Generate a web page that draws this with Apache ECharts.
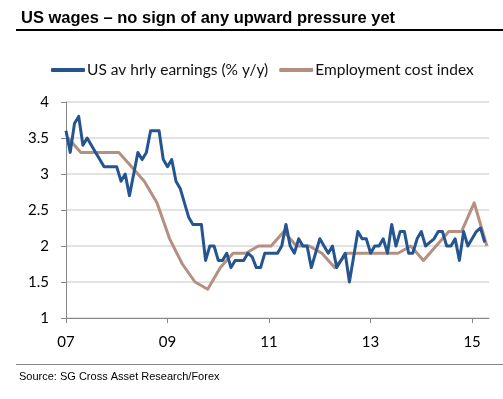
<!DOCTYPE html>
<html>
<head>
<meta charset="utf-8">
<script src="https://cdn.jsdelivr.net/npm/echarts@6/dist/echarts.min.js"></script>
<style>
  html, body { margin: 0; padding: 0; background: #fff; }
  #chart { width: 503px; height: 399px; }
</style>
</head>
<body>
<div id="chart"></div>
<script>
// months counted from Jan 2007 (0) ; monthly AHE series
const earnings = [
  3.6, 3.3, 3.7, 3.8, 3.4, 3.5, 3.4, 3.3, 3.2, 3.1, 3.1, 3.1,
  3.1, 2.9, 3.0, 2.7, 3.0, 3.3, 3.2, 3.3, 3.6, 3.6, 3.6, 3.2,
  3.1, 3.2, 2.9, 2.8, 2.6, 2.4, 2.3, 2.3, 2.3, 1.8, 2.0, 2.0,
  1.8, 1.8, 1.9, 1.7, 1.8, 1.8, 1.8, 1.9, 1.85, 1.7, 1.7, 1.9,
  1.9, 1.9, 1.9, 2.0, 2.3, 2.0, 1.9, 2.1, 2.0, 2.0, 1.7, 1.9,
  2.1, 2.0, 1.9, 2.0, 1.7, 1.8, 1.9, 1.5, 1.85, 2.2, 2.1, 2.1,
  1.9, 2.0, 2.0, 2.1, 1.9, 2.3, 2.0, 2.2, 2.2, 1.9, 1.9, 2.1,
  2.2, 2.0, 2.05, 2.1, 2.2, 2.2, 2.0, 2.0, 2.1, 1.8, 2.2, 2.0,
  2.1, 2.2, 2.25, 2.05
];
// quarterly ECI
const eci = [
  3.5, 3.3, 3.3, 3.3, 3.3, 3.1, 2.9, 2.6, 2.1, 1.75, 1.5, 1.4,
  1.7, 1.9, 1.9, 2.0, 2.0, 2.2, 2.0, 2.0, 1.9, 1.7, 1.9, 1.9,
  1.9, 1.9, 1.9, 2.0, 1.8, 2.0, 2.2, 2.2, 2.6, 2.0
];
const yearLabels = ['07', '09', '11', '13', '15'];
const seriesNames = ['US av hrly earnings (% y/y)', 'Employment cost index'];

const blue = '#245590';
const brown = '#b59080';

const chart = echarts.init(document.getElementById('chart'));
chart.setOption({
  animation: false,
  title: {
    text: 'US wages \u2013 no sign of any upward pressure yet',
    left: 16,
    top: 5,
    textStyle: { fontFamily: 'Liberation Sans', fontWeight: 'bold', fontSize: 16.5, color: '#000' }
  },
  legend: {
    left: 46,
    top: 57,
    itemWidth: 34,
    itemHeight: 4,
    itemGap: 11,
    icon: 'roundRect',
    textStyle: { fontFamily: 'Lato', fontSize: 15.5, color: '#111', padding: [0, 0, 0, -3] },
    data: seriesNames
  },
  grid: { left: 66, right: 14, top: 102, bottom: 81 },
  xAxis: {
    type: 'value',
    min: 0,
    max: 100,
    interval: 24,
    axisLine: { lineStyle: { color: '#888', width: 1 } },
    axisTick: { show: true, length: 5, lineStyle: { color: '#888' } },
    splitLine: { show: false },
    axisLabel: {
      showMaxLabel: false,
      margin: 17,
      fontFamily: 'Lato',
      fontSize: 15,
      color: '#000',
      formatter: v => yearLabels[v / 24] || ''
    }
  },
  yAxis: {
    type: 'value',
    min: 1,
    max: 4,
    interval: 0.5,
    axisLine: { show: true, lineStyle: { color: '#888', width: 1 } },
    axisTick: { show: true, length: 5, lineStyle: { color: '#888' } },
    splitLine: { lineStyle: { color: '#d9d9d9', width: 1.5 } },
    axisLabel: { margin: 17, fontFamily: 'Lato', fontSize: 15, color: '#000' }
  },
  graphic: [
    { type: 'rect', shape: { x: 16, y: 29, width: 487, height: 2 }, style: { fill: '#000' } },
    { type: 'rect', shape: { x: 16, y: 364, width: 487, height: 1 }, style: { fill: '#888' } },
    {
      type: 'text', left: 19, top: 371,
      style: { text: 'Source: SG Cross Asset Research/Forex', font: '11px "Liberation Sans"', fill: '#000' }
    }
  ],
  series: [
    {
      name: seriesNames[0],
      type: 'line',
      symbol: 'none',
      color: blue,
      lineStyle: { width: 3, color: blue, join: 'round' },
      data: earnings.map((v, i) => [i, v]),
      z: 3
    },
    {
      name: seriesNames[1],
      type: 'line',
      symbol: 'none',
      color: brown,
      lineStyle: { width: 3, color: brown, join: 'round' },
      data: eci.map((v, i) => [i * 3 + 0.5, v]),
      z: 2
    }
  ]
});
</script>
</body>
</html>
